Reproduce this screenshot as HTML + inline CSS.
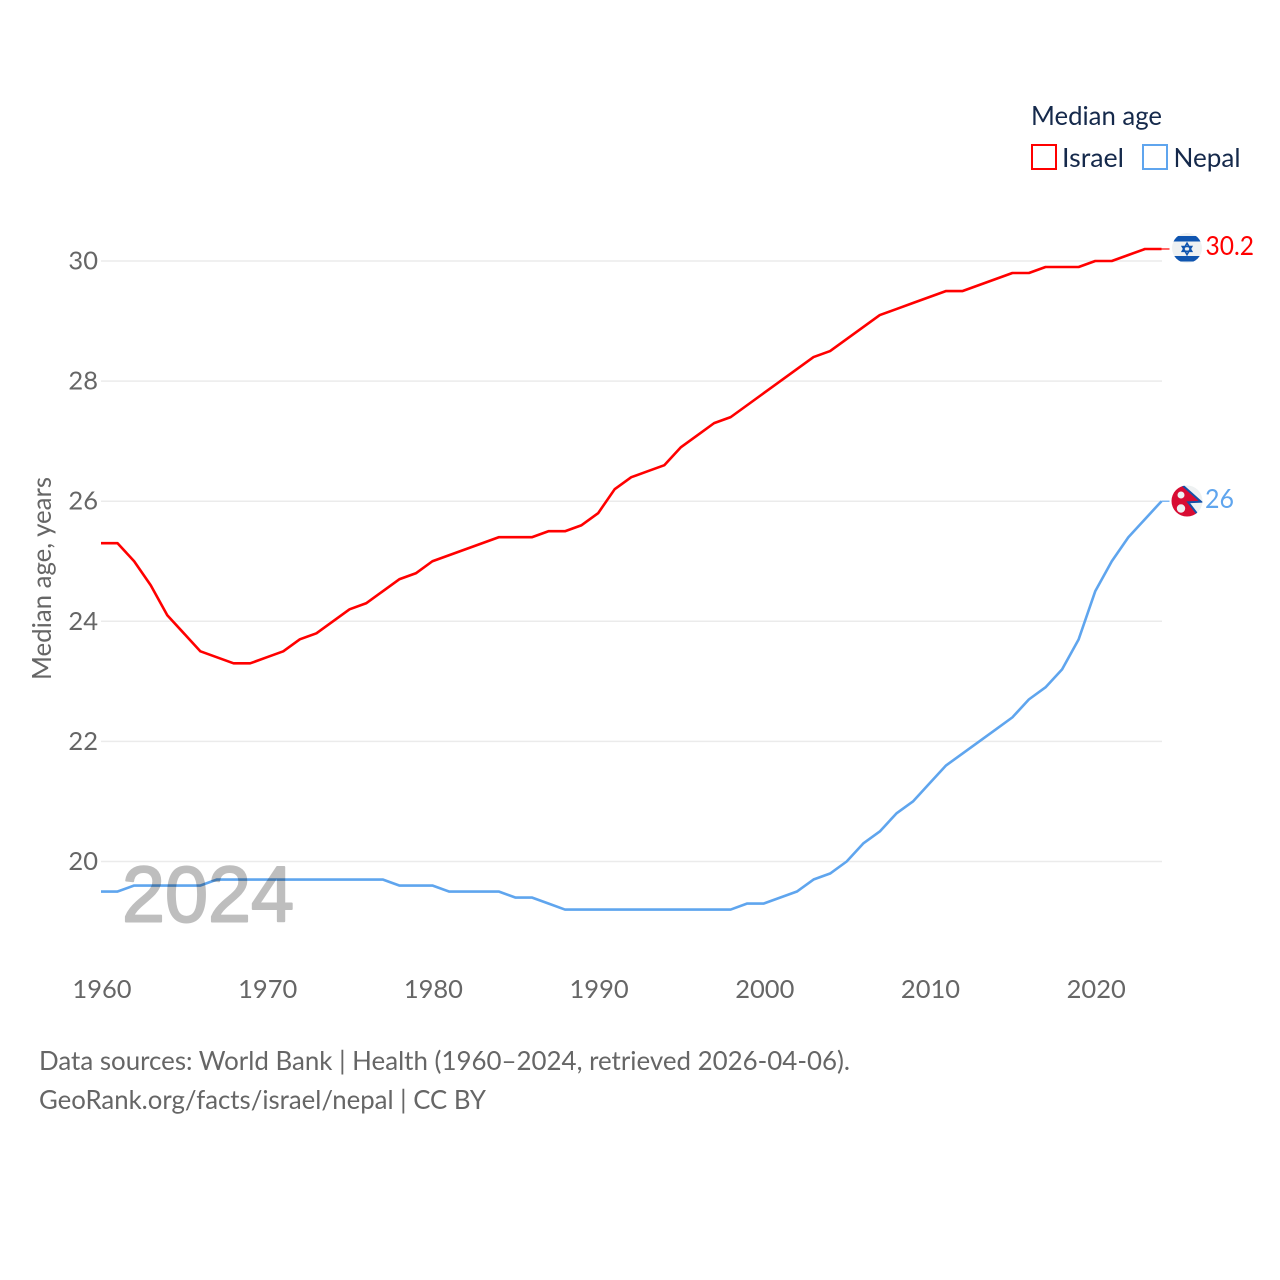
<!DOCTYPE html>
<html lang="en">
<head>
<meta charset="utf-8">
<title>Median age: Israel vs Nepal</title>
<style>
html,body{margin:0;padding:0;background:#fff;}
svg{display:block;}
text{font-family:"Lato","Carlito","Liberation Sans",sans-serif;}
</style>
</head>
<body>
<svg id="chart" xmlns="http://www.w3.org/2000/svg" width="1280" height="1280" viewBox="0 0 1280 1280">
  <rect width="1280" height="1280" fill="#fff"/>
  <g id="grid"></g>
  <g id="yticks"></g>
  <g id="xticks"></g>
  <g id="series"></g>
  <text x="122" y="921.5" font-size="79" font-weight="400" textLength="172" lengthAdjust="spacingAndGlyphs" style="font-family:'Liberation Sans',sans-serif" fill="#000" stroke="#000" stroke-width="2" stroke-linejoin="round" opacity="0.25">2024</text>
  <text transform="translate(51,680) rotate(-90)" font-size="26" fill="#666" textLength="203" lengthAdjust="spacingAndGlyphs">Median age, years</text>

  <g>
    <text x="1031" y="125" font-size="26" fill="#15294b" textLength="131" lengthAdjust="spacingAndGlyphs">Median age</text>
    <rect x="1032" y="145" width="24" height="24" fill="#fff" stroke="#ff0000" stroke-width="2"/>
    <text x="1062" y="167" font-size="26" fill="#15294b" textLength="62" lengthAdjust="spacingAndGlyphs">Israel</text>
    <rect x="1143" y="145" width="24" height="24" fill="#fff" stroke="#5fa5ee" stroke-width="2"/>
    <text x="1173.5" y="167" font-size="26" fill="#15294b" textLength="67" lengthAdjust="spacingAndGlyphs">Nepal</text>
  </g>

  <defs>
    <clipPath id="clip-il"><circle cx="1187" cy="248" r="15"/></clipPath>
    <clipPath id="clip-np"><circle cx="1187" cy="501" r="15.5"/></clipPath>
  </defs>
  <g clip-path="url(#clip-il)">
    <rect x="1170" y="230" width="34" height="36" fill="#eef1f2"/>
    <rect x="1170" y="236" width="34" height="5.5" fill="#0f55b0"/>
    <rect x="1170" y="256" width="34" height="5.5" fill="#0f55b0"/>
    <path d="M1187 243.2l4.7 8.1h-9.4z M1187 254.6l4.7-8.1h-9.4z" fill="none" stroke="#0f55b0" stroke-width="1.6"/>
  </g>
  <g clip-path="url(#clip-np)">
    <rect x="1170" y="484" width="34" height="34" fill="#eef1f2"/>
    <path d="M1170 484H1181.7L1201 501.7L1188.3 502.3L1198.3 515V519H1170Z" fill="#d80c33"/>
    <path d="M1181.7 484.6L1201 501.7L1188.3 502.3L1198.3 515.3" fill="none" stroke="#1450a8" stroke-width="2"/>
    <circle cx="1181" cy="495" r="3.5" fill="#eef1f2"/>
    <circle cx="1181" cy="508.5" r="4.2" fill="#eef1f2"/>
  </g>
  <text x="1205.5" y="255" font-size="26" fill="#ff0000" textLength="48.5" lengthAdjust="spacingAndGlyphs">30.2</text>
  <text x="1205" y="508" font-size="26" fill="#5fa5ee" textLength="29" lengthAdjust="spacingAndGlyphs">26</text>

  <g>
    <text x="39" y="1070" font-size="26" fill="#666" textLength="811" lengthAdjust="spacingAndGlyphs">Data sources: World Bank | Health (1960–2024, retrieved 2026-04-06).</text>
    <text x="39" y="1109" font-size="26" fill="#666" textLength="447" lengthAdjust="spacingAndGlyphs">GeoRank.org/facts/israel/nepal | CC BY</text>
  </g>
</svg>
<script>
const years = [1960,1961,1962,1963,1964,1965,1966,1967,1968,1969,1970,1971,1972,1973,1974,1975,1976,1977,1978,1979,1980,1981,1982,1983,1984,1985,1986,1987,1988,1989,1990,1991,1992,1993,1994,1995,1996,1997,1998,1999,2000,2001,2002,2003,2004,2005,2006,2007,2008,2009,2010,2011,2012,2013,2014,2015,2016,2017,2018,2019,2020,2021,2022,2023,2024];
const israelValues = [25.3,25.3,25.0,24.6,24.1,23.8,23.5,23.4,23.3,23.3,23.4,23.5,23.7,23.8,24.0,24.2,24.3,24.5,24.7,24.8,25.0,25.1,25.2,25.3,25.4,25.4,25.4,25.5,25.5,25.6,25.8,26.2,26.4,26.5,26.6,26.9,27.1,27.3,27.4,27.6,27.8,28.0,28.2,28.4,28.5,28.7,28.9,29.1,29.2,29.3,29.4,29.5,29.5,29.6,29.7,29.8,29.8,29.9,29.9,29.9,30.0,30.0,30.1,30.2,30.2];
const nepalValues = [19.5,19.5,19.6,19.6,19.6,19.6,19.6,19.7,19.7,19.7,19.7,19.7,19.7,19.7,19.7,19.7,19.7,19.7,19.6,19.6,19.6,19.5,19.5,19.5,19.5,19.4,19.4,19.3,19.2,19.2,19.2,19.2,19.2,19.2,19.2,19.2,19.2,19.2,19.2,19.3,19.3,19.4,19.5,19.7,19.8,20.0,20.3,20.5,20.8,21.0,21.3,21.6,21.8,22.0,22.2,22.4,22.7,22.9,23.2,23.7,24.5,25.0,25.4,25.7,26.0];
const yTickValues = [20,22,24,26,28,30];
const xTickValues = [1960,1970,1980,1990,2000,2010,2020];

const NS = 'http://www.w3.org/2000/svg';
function xScale(year) { return 101 + (year - 1960) * (1161.5 - 101) / 64; }
function yScale(value) { return 861.5 - (value - 20) * (861.5 - 261) / 10; }

const gridGroup = document.getElementById('grid');
const yTickGroup = document.getElementById('yticks');
const xTickGroup = document.getElementById('xticks');
const seriesGroup = document.getElementById('series');

yTickValues.forEach(function (tick) {
  const line = document.createElementNS(NS, 'line');
  
  
  line.setAttribute('x1', 101);
  line.setAttribute('x2', 1162);
  line.setAttribute('y1', yScale(tick));
  line.setAttribute('y2', yScale(tick));
  line.setAttribute('stroke', '#ebebeb');
  line.setAttribute('stroke-width', '1.5');
  gridGroup.appendChild(line);

  const label = document.createElementNS(NS, 'text');
  
  
  label.setAttribute('x', 98);
  label.setAttribute('y', yScale(tick) + 8.5);
  label.setAttribute('text-anchor', 'end');
  label.setAttribute('font-size', '25.5');
  label.setAttribute('fill', '#666');
  label.textContent = tick;
  yTickGroup.appendChild(label);
});

xTickValues.forEach(function (tick) {
  const label = document.createElementNS(NS, 'text');
  
  
  label.setAttribute('x', xScale(tick) + 1);
  label.setAttribute('y', 998);
  label.setAttribute('text-anchor', 'middle');
  label.setAttribute('font-size', '25.5');
  label.setAttribute('fill', '#666');
  label.textContent = tick;
  xTickGroup.appendChild(label);
});

function buildPoints(values) {
  return values.map(function (v, i) {
    return xScale(years[i]).toFixed(2) + ',' + yScale(v).toFixed(2);
  }).join(' ');
}

const israelLine = document.createElementNS(NS, 'polyline');


israelLine.setAttribute('points', buildPoints(israelValues));
israelLine.setAttribute('fill', 'none');
israelLine.setAttribute('stroke', '#ff0000');
israelLine.setAttribute('stroke-width', '2.6');
israelLine.setAttribute('stroke-linejoin', 'round');
seriesGroup.appendChild(israelLine);

const nepalLine = document.createElementNS(NS, 'polyline');


nepalLine.setAttribute('points', buildPoints(nepalValues));
nepalLine.setAttribute('fill', 'none');
nepalLine.setAttribute('stroke', '#5fa5ee');
nepalLine.setAttribute('stroke-width', '2.6');
nepalLine.setAttribute('stroke-linejoin', 'round');
seriesGroup.appendChild(nepalLine);

const israelConnector = document.createElementNS(NS, 'line');


israelConnector.setAttribute('x1', xScale(years[years.length - 1]));
israelConnector.setAttribute('x2', xScale(years[years.length - 1]) + 8);
israelConnector.setAttribute('y1', yScale(israelValues[israelValues.length - 1]));
israelConnector.setAttribute('y2', yScale(israelValues[israelValues.length - 1]));
israelConnector.setAttribute('stroke', '#ff0000');
israelConnector.setAttribute('stroke-width', '1.2');
seriesGroup.appendChild(israelConnector);

const nepalConnector = document.createElementNS(NS, 'line');


nepalConnector.setAttribute('x1', xScale(years[years.length - 1]));
nepalConnector.setAttribute('x2', xScale(years[years.length - 1]) + 8);
nepalConnector.setAttribute('y1', yScale(nepalValues[nepalValues.length - 1]));
nepalConnector.setAttribute('y2', yScale(nepalValues[nepalValues.length - 1]));
nepalConnector.setAttribute('stroke', '#5fa5ee');
nepalConnector.setAttribute('stroke-width', '1.2');
seriesGroup.appendChild(nepalConnector);
</script>
</body>
</html>
